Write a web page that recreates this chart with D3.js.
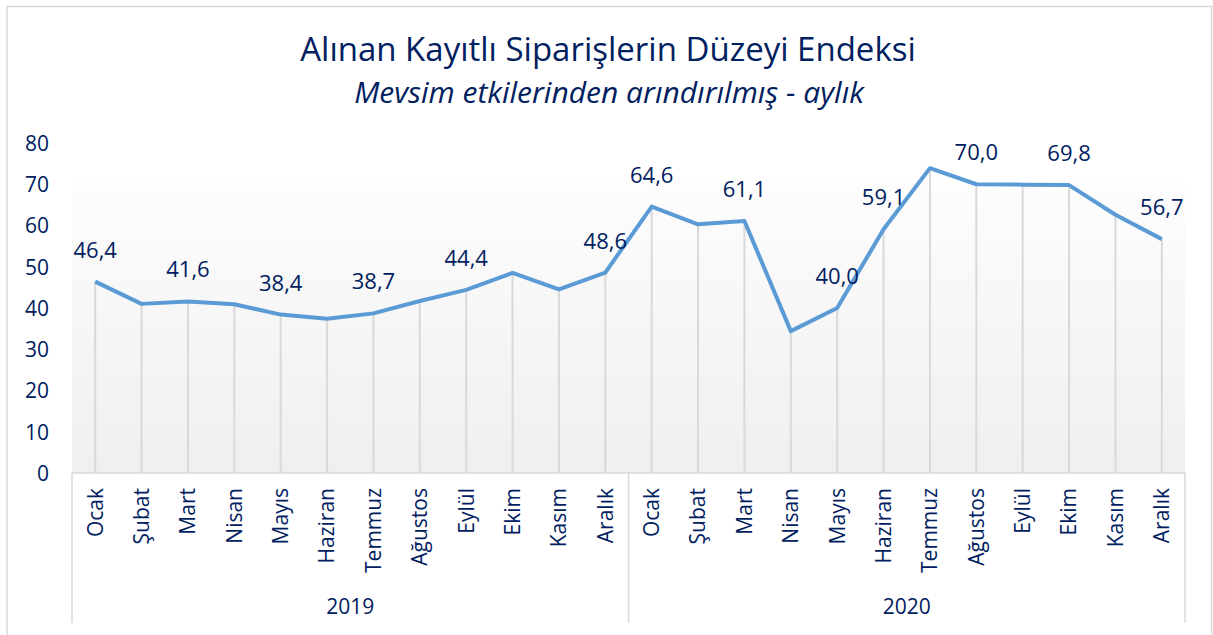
<!DOCTYPE html>
<html>
<head>
<meta charset="utf-8">
<script src="https://cdn.jsdelivr.net/npm/d3@7"></script>
<style>
  body { margin: 0; background: #fff; }
  text { font-family: "Open Sans", sans-serif; fill: #002060; }
</style>
</head>
<body>
<div id="chart"></div>
<script>
const months = ["Ocak","Şubat","Mart","Nisan","Mayıs","Haziran","Temmuz","Ağustos","Eylül","Ekim","Kasım","Aralık"];
const years = ["2019","2020"];
const values2019 = [46.4, 41.0, 41.6, 40.9, 38.4, 37.4, 38.7, 41.7, 44.4, 48.5, 44.5, 48.6];
const values2020 = [64.6, 60.3, 61.1, 34.4, 40.0, 59.1, 73.9, 70.0, 69.9, 69.8, 62.6, 56.7];
// which months carry a data label
const labeled2019 = [0, 2, 4, 6, 8, 11];
const labeled2020 = [0, 2, 4, 5, 7, 9, 11];
const yTicks = [0, 10, 20, 30, 40, 50, 60, 70, 80];

const W = 1213, H = 635;
const margin = {left: 72, right: 1185, top: 143, bottom: 473, box: 623};

const data = [];
years.forEach((yr, yi) => {
  const vals = yi === 0 ? values2019 : values2020;
  const lab = yi === 0 ? labeled2019 : labeled2020;
  months.forEach((m, mi) => {
    data.push({key: yr + "-" + mi, year: yr, month: m, value: vals[mi], label: lab.includes(mi)});
  });
});

const svg = d3.select("#chart").append("svg")
  .attr("width", W).attr("height", H);

// outer frame
svg.append("rect")
  .attr("x", 7).attr("y", 6.5)
  .attr("width", 1204.5).attr("height", 640)
  .attr("fill", "none").attr("stroke", "#d9d9d9").attr("stroke-width", 1.5);

const x = d3.scaleBand().domain(data.map(d => d.key)).range([margin.left, margin.right]);
const y = d3.scaleLinear().domain([0, 80]).range([margin.bottom, margin.top]);
const cx = d => x(d.key) + x.bandwidth() / 2;

// plot area gradient
const grad = svg.append("defs").append("linearGradient")
  .attr("id", "pa").attr("x1", 0).attr("y1", 0).attr("x2", 0).attr("y2", 1);
grad.append("stop").attr("offset", 0).attr("stop-color", "#fdfdfd");
grad.append("stop").attr("offset", 1).attr("stop-color", "#efefef");
svg.append("rect")
  .attr("x", margin.left).attr("y", y(70.5))
  .attr("width", margin.right - margin.left).attr("height", y(0) - y(70.5))
  .attr("fill", "url(#pa)");

// title
svg.append("text")
  .attr("x", 608).attr("y", 61)
  .attr("text-anchor", "middle")
  .style("font-size", "33px")
  .text("Alınan Kayıtlı Siparişlerin Düzeyi Endeksi");
svg.append("text")
  .attr("x", 609).attr("y", 103)
  .attr("text-anchor", "middle")
  .style("font-size", "30px").style("font-style", "italic")
  .text("Mevsim etkilerinden arındırılmış - aylık");

// y axis labels
const yAxis = svg.append("g")
  .attr("transform", `translate(${margin.left - 23},0)`)
  .call(d3.axisLeft(y).tickValues(yTicks).tickSize(0).tickPadding(0));
yAxis.select(".domain").remove();
yAxis.selectAll("text")
  .style("font-size", "21px").style("font-family", "Open Sans, sans-serif")
  .attr("fill", "#002060").attr("dy", "0.35em");

// drop lines
svg.append("g").selectAll("line")
  .data(data).join("line")
  .attr("x1", cx).attr("x2", cx)
  .attr("y1", d => y(d.value)).attr("y2", y(0))
  .attr("stroke", "#d9d9d9").attr("stroke-width", 2);

// category box
const boxColor = "#d9d9d9";
svg.append("line")
  .attr("x1", margin.left).attr("x2", margin.right).attr("y1", y(0)).attr("y2", y(0))
  .attr("stroke", boxColor).attr("stroke-width", 1.5);
[margin.left, x(years[1] + "-0"), margin.right].forEach(xx => {
  svg.append("line")
    .attr("x1", xx).attr("x2", xx).attr("y1", y(0)).attr("y2", margin.box)
    .attr("stroke", boxColor).attr("stroke-width", 1.5);
});

// month labels
svg.append("g").selectAll("text")
  .data(data).join("text")
  .attr("transform", d => `translate(${cx(d)},${margin.bottom + 15})rotate(-90)`)
  .attr("text-anchor", "end").attr("dy", "0.35em")
  .style("font-size", "21px")
  .text(d => d.month);

// year labels
years.forEach(yr => {
  const x0 = x(yr + "-0"), x1 = x(yr + "-11") + x.bandwidth();
  svg.append("text")
    .attr("x", (x0 + x1) / 2).attr("y", 614)
    .attr("text-anchor", "middle")
    .style("font-size", "21px")
    .text(yr);
});

// line
const line = d3.line().x(cx).y(d => y(d.value));
svg.append("path")
  .datum(data)
  .attr("fill", "none")
  .attr("stroke", "#5b9bd5")
  .attr("stroke-width", 4)
  .attr("stroke-linejoin", "round")
  .attr("d", line);

// data labels
const fmt = v => v.toFixed(1).replace(".", ",");
svg.append("g").selectAll("text")
  .data(data.filter(d => d.label)).join("text")
  .attr("x", cx).attr("y", d => y(d.value) - 24)
  .attr("text-anchor", "middle")
  .style("font-size", "22px")
  .text(d => fmt(d.value));
</script>
</body>
</html>
